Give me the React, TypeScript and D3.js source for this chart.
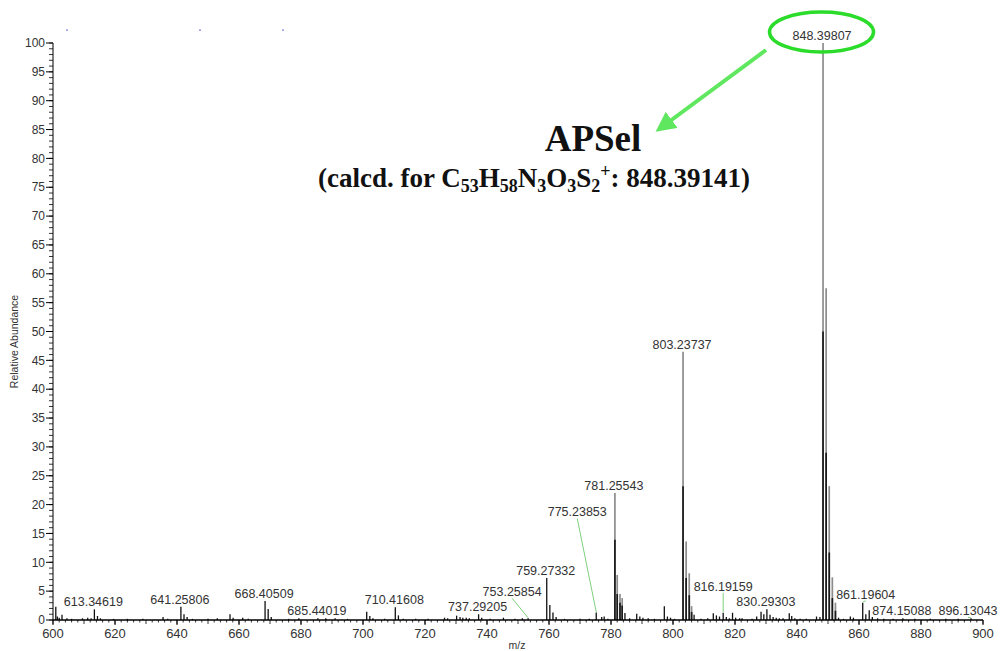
import React from "react";
import * as d3 from "d3";

// ---- spectrum data -------------------------------------------------------
// m/z of each centroid line
const peakMz: number[] = [
  600.9, 601.4, 602.0, 602.9, 604.5, 606.0, 609.5, 611.2, 612.3, 613.35, 614.35, 615.3,
  619.5, 624.0, 629.0, 635.5, 637.0, 641.26, 642.26, 643.26, 645.0, 650.0, 653.0,
  657.1, 658.1, 661.2, 663.0, 668.41, 669.41, 670.4, 676.0, 679.3, 685.44, 688.0,
  691.0, 695.0, 701.2, 702.2, 703.2, 707.0, 710.42, 711.42, 713.0, 717.0, 721.0,
  726.3, 727.3, 730.2, 731.3, 732.2, 733.3, 734.3, 737.29, 738.3, 741.0, 745.3,
  749.0, 751.4, 753.26, 759.27, 760.27, 761.28, 762.3, 765.0, 770.0, 773.0, 775.24,
  777.0, 777.8, 779.0, 781.26, 782.0, 782.9, 783.6, 784.5, 786.0, 788.3, 789.3,
  790.3, 792.0, 794.0, 797.2, 798.2, 799.2, 800.5, 803.24, 804.24, 805.24, 806.0,
  806.8, 809.0, 811.2, 813.0, 814.0, 815.0, 816.19, 817.2, 818.2, 819.2, 820.2,
  821.5, 822.3, 825.5, 827.0, 828.4, 829.3, 830.29, 831.3, 832.3, 833.3, 834.3,
  835.5, 837.5, 838.3, 839.3, 841.0, 843.0, 846.3, 847.4, 848.4, 849.4, 850.4,
  851.4, 852.4, 853.4, 855.0, 857.2, 858.2, 861.2, 862.2, 863.3, 864.3, 866.0,
  868.0, 871.0, 874.15, 878.0, 883.0, 888.0, 892.0, 896.13,
];

// relative abundance (%) of each line
const peakIntensity: number[] = [
  2.3, 0.6, 0.4, 0.9, 0.3, 0.2, 0.3, 0.4, 0.3, 1.85, 0.7, 0.3,
  0.2, 0.2, 0.2, 0.5, 0.2, 2.3, 1.0, 0.5, 0.2, 0.2, 0.3,
  1.0, 0.4, 0.4, 0.2, 3.3, 1.9, 0.5, 0.2, 0.3, 0.3, 0.3,
  0.3, 0.2, 1.45, 0.7, 0.3, 0.2, 2.2, 0.8, 0.2, 0.2, 0.2,
  0.4, 0.3, 0.75, 0.5, 0.4, 0.4, 0.3, 1.0, 0.4, 0.2, 0.4,
  0.2, 0.3, 0.3, 7.3, 2.6, 1.3, 0.5, 0.2, 0.2, 0.2, 1.3,
  0.5, 0.6, 0.2, 22.0, 7.8, 4.5, 3.8, 1.2, 0.3, 1.1, 0.6,
  0.4, 0.3, 0.2, 2.4, 0.6, 0.4, 0.2, 46.5, 13.6, 8.1, 2.4,
  0.9, 0.2, 0.3, 1.15, 0.8, 0.6, 1.25, 0.5, 0.3, 1.25, 0.4,
  0.3, 0.3, 0.2, 0.6, 1.45, 1.0, 1.85, 0.9, 0.5, 0.4, 0.3,
  0.3, 1.15, 0.7, 0.3, 0.2, 0.2, 0.6, 0.5, 100, 57.5, 23.2,
  7.4, 3.0, 0.4, 0.2, 0.6, 0.4, 3.0, 1.0, 1.7, 0.5, 0.3,
  0.2, 0.2, 0.3, 0.2, 0.2, 0.2, 0.2, 0.3,
];

// dense (dark) lower part of the isotope lines; null = the whole line is dark
const peakCore: (number | null)[] = peakMz.map(() => null);
const coreMz: number[] = [848.4, 849.4, 850.4, 851.4, 852.4, 803.24, 804.24, 805.24, 806.0, 781.26, 782.0, 782.9, 783.6];
const coreValue: number[] = [50, 29, 11.7, 3.8, 1.6, 23.2, 7.3, 4.3, 1.4, 13.9, 4.5, 3.0, 2.5];
coreMz.forEach((m, i) => {
  const k = peakMz.indexOf(m);
  if (k >= 0) peakCore[k] = coreValue[i];
});

// annotated lines
const labelMz: number[] = [
  613.35, 641.26, 668.41, 685.44, 710.42, 737.29, 753.26, 759.27, 775.24, 781.26,
  803.24, 816.19, 830.29, 848.4, 861.2, 874.15, 896.13,
];
const labelText: string[] = [
  "613.34619", "641.25806", "668.40509", "685.44019", "710.41608", "737.29205",
  "753.25854", "759.27332", "775.23853", "781.25543", "803.23737", "816.19159",
  "830.29303", "848.39807", "861.19604", "874.15088", "896.13043",
];

const xTicks: number[] = [600, 620, 640, 660, 680, 700, 720, 740, 760, 780, 800, 820, 840, 860, 880, 900];
const yTicks: number[] = d3.range(0, 101, 5);

// ---- layout ---------------------------------------------------------------
const W = 1000;
const H = 651;
const X0 = 53;
const X1 = 983;
const Y0 = 620;
const Y1 = 43;

// labels that sit away from their line, joined by a leader (dx, baseline y offset from line top)
const leaderLabels: Record<string, { dx: number; dy: number }> = {
  "753.25854": { dx: -16, dy: -22 },
  "775.23853": { dx: -19, dy: -96 },
  "816.19159": { dx: 0, dy: -22 },
  "861.19604": { dx: 3, dy: -4 },
  "896.13043": { dx: -3, dy: -3 },
};

const SANS = "'Liberation Sans', Arial, sans-serif";
const SERIF = "'Liberation Serif', 'Times New Roman', serif";

export default function App() {
  const x = d3.scaleLinear().domain([600, 900]).range([X0, X1]);
  const y = d3.scaleLinear().domain([0, 100]).range([Y0, Y1]);

  const xMinor = d3.range(600, 900.01, 2);
  const yMinor = d3.range(0, 100.01, 1);

  const peaks = peakMz.map((m, i) => ({ mz: m, v: peakIntensity[i], core: peakCore[i] }));

  return (
    <svg
      width={W}
      height={H}
      viewBox={`0 0 ${W} ${H}`}
      style={{ position: "absolute", left: 0, top: 0, background: "#fff" }}
    >
      {/* stray header marks */}
      {[67, 200, 283].map((cx) => (
        <rect key={cx} x={cx - 0.7} y={29.5} width={1.4} height={1.2} fill="#3344cc" />
      ))}

      {/* spectrum lines */}
      <g>
        {peaks.map((p, i) => {
          const px = x(p.mz);
          if (p.core === null) {
            return (
              <line key={i} x1={px} x2={px} y1={y(0)} y2={y(p.v)} stroke="#111" strokeWidth={1.3} />
            );
          }
          return (
            <g key={i}>
              <line x1={px} x2={px} y1={y(0)} y2={y(p.v)} stroke="#8c8c8c" strokeWidth={1.7} />
              <line x1={px} x2={px} y1={y(0)} y2={y(p.core)} stroke="#1a1a1a" strokeWidth={1.7} />
            </g>
          );
        })}
      </g>

      {/* y axis */}
      <g fontFamily={SANS} fontSize={12} fill="#333">
        <line x1={X0} x2={X0} y1={Y0} y2={Y1} stroke="#000" strokeWidth={1} />
        {yMinor.map((v) => (
          <line key={"ym" + v} x1={X0 - 4} x2={X0} y1={y(v)} y2={y(v)} stroke="#000" strokeWidth={0.8} />
        ))}
        {yTicks.map((v) => (
          <g key={"yt" + v}>
            <line x1={X0 - 7} x2={X0} y1={y(v)} y2={y(v)} stroke="#000" strokeWidth={1} />
            <text x={X0 - 8} y={y(v) + 4.2} textAnchor="end">
              {v}
            </text>
          </g>
        ))}
        <text
          transform={`translate(18, ${(Y0 + Y1) / 2 + 10}) rotate(-90)`}
          textAnchor="middle"
          fontSize={10.5}
        >
          Relative Abundance
        </text>
      </g>

      {/* x axis */}
      <g fontFamily={SANS} fontSize={13} fill="#333">
        <line x1={X0} x2={X1} y1={Y0} y2={Y0} stroke="#000" strokeWidth={1.3} />
        {xMinor.map((v) => (
          <line
            key={"xm" + v}
            x1={x(v)}
            x2={x(v)}
            y1={Y0}
            y2={Y0 + (v % 10 === 0 ? 4 : 2.5)}
            stroke="#000"
            strokeWidth={0.8}
          />
        ))}
        {xTicks.map((v) => (
          <g key={"xt" + v}>
            <line x1={x(v)} x2={x(v)} y1={Y0} y2={Y0 + 5} stroke="#000" strokeWidth={1} />
            <text x={x(v)} y={Y0 + 17.5} textAnchor="middle">
              {v}
            </text>
          </g>
        ))}
        <text x={(X0 + X1) / 2 - 1} y={Y0 + 29} textAnchor="middle" fontSize={10.5}>
          m/z
        </text>
      </g>

      {/* peak annotations */}
      <g fontFamily={SANS} fontSize={12.5} fill="#333">
        {labelMz.map((m, i) => {
          const k = peakMz.indexOf(m);
          const v = k >= 0 ? peakIntensity[k] : 0;
          const px = x(m);
          const top = y(v);
          const txt = labelText[i];
          const lead = leaderLabels[txt];
          if (lead) {
            const lx = px + lead.dx;
            const ly = top + lead.dy;
            return (
              <g key={txt}>
                <line x1={lx} y1={ly + 2} x2={px} y2={top - 0.5} stroke="#7fd07f" strokeWidth={1} />
                <text x={lx} y={ly} textAnchor="middle">
                  {txt}
                </text>
              </g>
            );
          }
          return (
            <text key={txt} x={px - 1} y={top - 3} textAnchor="middle">
              {txt}
            </text>
          );
        })}
      </g>

      {/* highlight of the base peak */}
      <ellipse cx={821.5} cy={32} rx={52} ry={20} fill="none" stroke="#2bdc2b" strokeWidth={3.5} />
      <defs>
        <marker id="arrowHead" viewBox="0 0 10 10" refX={6} refY={5} markerWidth={5} markerHeight={5} orient="auto">
          <path d="M0,0 L10,5 L0,10 z" fill="#5fe85f" />
        </marker>
      </defs>
      <line x1={766} y1={50} x2={662} y2={127} stroke="#5fe85f" strokeWidth={4} markerEnd="url(#arrowHead)" />

      {/* compound name and calculated mass */}
      <text x={593} y={151} textAnchor="middle" fontFamily={SERIF} fontWeight="bold" fontSize={37} fill="#111">
        APSel
      </text>
      <text x={534} y={187} textAnchor="middle" fontFamily={SERIF} fontWeight="bold" fontSize={27} fill="#111">
        (calcd. for C
        <tspan fontSize={18} dy={5}>53</tspan>
        <tspan dy={-5}>H</tspan>
        <tspan fontSize={18} dy={5}>58</tspan>
        <tspan dy={-5}>N</tspan>
        <tspan fontSize={18} dy={5}>3</tspan>
        <tspan dy={-5}>O</tspan>
        <tspan fontSize={18} dy={5}>3</tspan>
        <tspan dy={-5}>S</tspan>
        <tspan fontSize={18} dy={5}>2</tspan>
        <tspan fontSize={18} dy={-15}>+</tspan>
        <tspan dy={10}>: 848.39141)</tspan>
      </text>
    </svg>
  );
}
